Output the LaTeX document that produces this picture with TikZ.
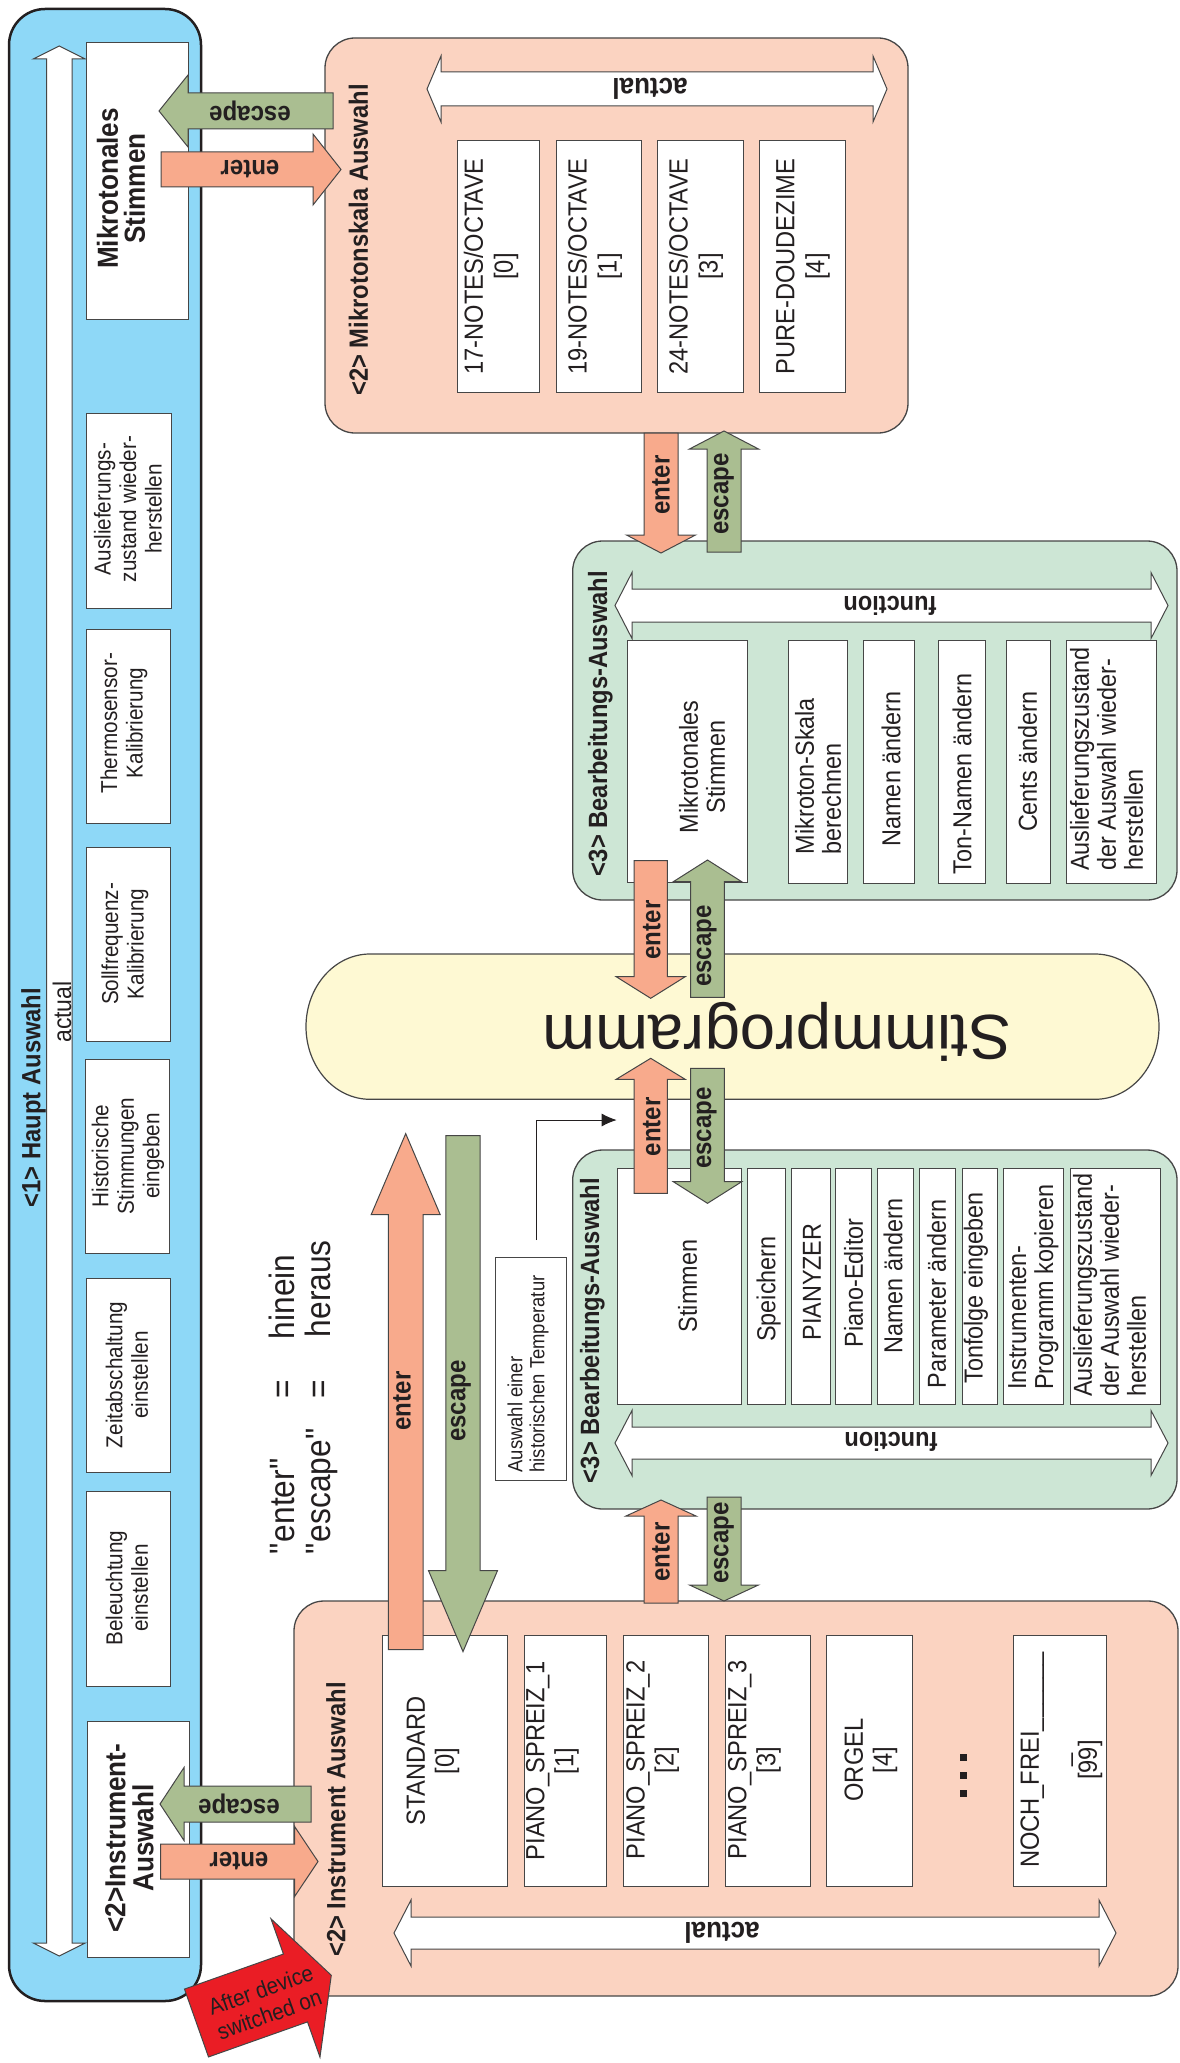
\documentclass[tikz,border=0pt]{standalone}
\usepackage{fontspec}
\setmainfont{Liberation Sans}[FakeStretch=0.9]
\newfontfamily\widefont{Liberation Sans}
\usetikzlibrary{arrows.meta}
\definecolor{bluefill}{RGB}{142,216,247}
\definecolor{pinkfill}{RGB}{251,211,193}
\definecolor{greenfill}{RGB}{205,230,213}
\definecolor{yellowfill}{RGB}{254,249,211}
\definecolor{enterfill}{RGB}{248,170,140}
\definecolor{escfill}{RGB}{170,190,145}
\definecolor{redfill}{RGB}{234,29,37}
\definecolor{ink}{RGB}{35,31,32}
\definecolor{edgegray}{RGB}{70,70,70}
\newcommand{\fs}[2]{\fontsize{#1}{#2}\selectfont}
% block arrow: fill, tail x, tail y, angle, length, shaft half width, head half width, head length
\newcommand{\blockarrow}[8]{\draw[draw=edgegray, line width=1pt, fill=#1, shift={(#2,#3)}, rotate=#4]
  (0,-#6) -- ({#5-#8},-#6) -- ({#5-#8},-#7) -- (#5,0) -- ({#5-#8},#7) -- ({#5-#8},#6) -- (0,#6) -- cycle;}
% double arrow: fill, tip x, tip y, angle, length, shaft half width, head half width, head length
\newcommand{\dblarrow}[8]{\draw[draw=edgegray, line width=1pt, fill=#1, shift={(#2,#3)}, rotate=#4]
  (0,0) -- (#8,#7) -- (#8,#6) -- ({#5-#8},#6) -- ({#5-#8},#7) -- (#5,0) -- ({#5-#8},-#7) -- ({#5-#8},-#6) -- (#8,-#6) -- (#8,-#7) -- cycle;}
\begin{document}
\begin{tikzpicture}[x=1pt,y=-1pt,
  item/.style={draw=edgegray, line width=1pt, fill=white},
  panel/.style={draw=edgegray, line width=1.3pt, rounded corners=30pt},
  txt/.style={text=ink, inner sep=0pt, align=center},
  lbl/.style={txt, font=\bfseries\fs{26.7}{28}},
  ttl/.style={txt, font=\bfseries\fs{26.4}{28}, rotate=90},
  boxt/.style={txt, font=\fs{26}{27}, rotate=90},
  bluet/.style={txt, font=\fs{23}{25.5}, rotate=90},
  mikt/.style={txt, font=\fs{26.3}{30}, rotate=90},
  inst/.style={txt, font=\fs{26.3}{29}, rotate=90},
  legend/.style={txt, font=\fs{35.2}{40}, rotate=90}]
\useasboundingbox (0,0) rectangle (1180,2063);

% ---------- blue main panel ----------
\draw[draw=ink, line width=2.5pt, fill=bluefill, rounded corners=36pt] (9,9) rectangle (201,2001);
\dblarrow{white}{59.3}{1956}{90}{1910}{12.8}{26}{13}
\draw[item] (86,43) rectangle (188,319);
\draw[item] (86,413) rectangle (171,608);
\draw[item] (86,629) rectangle (170,823);
\draw[item] (86,847) rectangle (170,1041);
\draw[item] (85,1059) rectangle (169,1253);
\draw[item] (86,1278) rectangle (170,1472);
\draw[item] (86,1491) rectangle (170,1686);
\draw[item] (87.5,1721) rectangle (189,1957);

% ---------- Mikrotonskala panel ----------
\draw[panel, fill=pinkfill] (325,38) rectangle (908,433);
\dblarrow{white}{427}{89}{0}{460}{17}{33}{14}
\draw[item] (457,141) rectangle (539,392);
\draw[item] (556,141) rectangle (641,392);
\draw[item] (657,141) rectangle (743,392);
\draw[item] (759,141) rectangle (845,392);

% ---------- upper Bearbeitungs panel ----------
\draw[panel, fill=greenfill] (572.7,541) rectangle (1177,900);
\dblarrow{white}{615}{605.5}{0}{553}{16.5}{33}{17}
\draw[item] (627,640) rectangle (747,882);
\draw[item] (788.5,640) rectangle (847,883);
\draw[item] (863,640) rectangle (914,883);
\draw[item] (938,640) rectangle (985,883);
\draw[item] (1006,640) rectangle (1050,883);
\draw[item] (1066,640) rectangle (1156,883);

% ---------- Stimmprogramm ----------
\draw[draw=edgegray, line width=1.2pt, fill=yellowfill] (370,954) -- (1095,954)
  arc[start angle=-90, end angle=90, x radius=64, y radius=72.65] -- (370,1099.3)
  arc[start angle=90, end angle=270, x radius=64, y radius=72.65] -- cycle;

% ---------- lower Bearbeitungs panel ----------
\draw[panel, fill=greenfill] (572.7,1150) rectangle (1177,1509);
\dblarrow{white}{615}{1443}{0}{553}{16}{32.5}{17}
\draw[item] (617,1168) rectangle (741,1404);
\draw[item] (747,1168) rectangle (785,1404);
\draw[item] (791,1168) rectangle (830,1404);
\draw[item] (835,1168) rectangle (871,1404);
\draw[item] (877.5,1168) rectangle (913,1404);
\draw[item] (919,1168) rectangle (955,1404);
\draw[item] (962,1168) rectangle (997,1404);
\draw[item] (1003.6,1168) rectangle (1063,1404);
\draw[item] (1070.5,1168) rectangle (1160,1404);

% ---------- Instrument panel ----------
\draw[panel, fill=pinkfill] (294,1601) rectangle (1178,1996);
\dblarrow{white}{394}{1933}{0}{722}{16}{33}{17}
\draw[item] (382,1635) rectangle (507.6,1886);
\draw[item] (524.5,1635) rectangle (606,1886);
\draw[item] (623,1635) rectangle (708.4,1886);
\draw[item] (725.4,1635) rectangle (810.5,1886);
\draw[item] (826.8,1635) rectangle (912.2,1886);
\draw[item] (1013.6,1635) rectangle (1106,1886);
\node[fill=ink, minimum size=7pt, inner sep=0pt] (dotA) at (963.3,1757.7) {};
\node[fill=ink, minimum size=7pt, inner sep=0pt] (dotB) at (963.3,1775.5) {};
\node[fill=ink, minimum size=7pt, inner sep=0pt] (dotC) at (963.3,1793.3) {};

% ---------- historical temperature note ----------
\draw[item] (495,1257) rectangle (566,1480);
\coordinate (tempTop) at (536.5,1240);
\coordinate (stimmIn) at (616.7,1120);
\draw[draw=ink, line width=1pt, -{Latex[length=15pt,width=13pt]}] (tempTop) |- (stimmIn);

% ---------- block arrows ----------
\blockarrow{escfill}{333}{111}{180}{174}{18}{36}{29}
\blockarrow{enterfill}{161}{169.5}{0}{180}{17.5}{35.5}{28}
\blockarrow{enterfill}{661}{433}{270}{120}{17}{34.5}{18}
\blockarrow{escfill}{724}{552}{90}{121}{17}{34.5}{18}
\blockarrow{enterfill}{650.7}{860.7}{270}{137.6}{16.7}{34.5}{21.6}
\blockarrow{escfill}{707.5}{997.3}{90}{137.3}{16.8}{34.2}{21.7}
\blockarrow{enterfill}{650.7}{1193.3}{90}{135}{16.7}{34.5}{21}
\blockarrow{escfill}{707.5}{1068.3}{270}{135}{16.8}{34.2}{21.6}
\blockarrow{enterfill}{661}{1603}{90}{103}{17}{35}{16}
\blockarrow{escfill}{724}{1497}{270}{104}{17}{34.4}{16}
\blockarrow{enterfill}{405.7}{1649.6}{90}{516}{17.3}{34.5}{81}
\blockarrow{escfill}{463}{1135.6}{270}{516}{17.2}{34.5}{81}
\blockarrow{escfill}{311}{1804}{180}{151}{18}{36.5}{24}
\blockarrow{enterfill}{160.7}{1861.5}{0}{157.3}{17.5}{35}{23.4}
\blockarrow{redfill}{196.5}{2023}{19.5}{143}{36}{73.4}{38}

% ---------- texts: blue panel ----------
\node[ttl] (haupt) at (33.5,1097.5) {<1> Haupt Auswahl};
\node[txt, rotate=90, font=\fs{25.5}{28}] (hauptAct) at (62,1012) {actual};
\node[txt, rotate=90, font=\bfseries\fs{29}{27}] (bMikro) at (121,188.5) {Mikrotonales\\Stimmen};
\node[bluet] (bAus) at (128,509) {Auslieferungs-\\zustand wieder-\\herstellen};
\node[bluet] (bTherm) at (124,723) {Thermosensor-\\Kalibrierung};
\node[bluet] (bSoll) at (125,944) {Sollfrequenz-\\Kalibrierung};
\node[bluet] (bHist) at (128,1156) {Historische\\Stimmungen\\eingeben};
\node[bluet] (bZeit) at (127,1375) {Zeitabschaltung\\einstellen};
\node[bluet] (bBel) at (127,1588) {Beleuchtung\\einstellen};
\node[txt, rotate=90, font=\bfseries\fs{29}{28}] (bInst) at (129.5,1838) {<2>Instrument-\\Auswahl};

% ---------- texts: Mikrotonskala ----------
\node[ttl] (mTitle) at (358.5,240) {<2> Mikrotonskala Auswahl};
\node[txt, rotate=180, font=\bfseries\fs{28.9}{30}] (mAct) at (650,89) {actual};
\node[mikt] (m17) at (491,266.5) {17-NOTES/OCTAVE\\{[0]}};
\node[mikt] (m19) at (594.8,266.5) {19-NOTES/OCTAVE\\{[1]}};
\node[mikt] (m24) at (695.8,266.5) {24-NOTES/OCTAVE\\{[3]}};
\node[mikt] (mPure) at (802.8,266.5) {PURE-DOUDEZIME\\{[4]}};

% ---------- texts: upper Bearbeitung ----------
\node[ttl] (b1Title) at (600.3,723.5) {<3> Bearbeitungs-Auswahl};
\node[txt, rotate=180, font=\bfseries\fs{26.2}{28}] (b1Fn) at (890,605.5) {function};
\node[boxt] (b1a) at (702,767) {Mikrotonales\\Stimmen};
\node[boxt, align=left] (b1b) at (818,776) {Mikroton-Skala\\berechnen};
\node[boxt] (b1c) at (891,769) {Namen ändern};
\node[boxt] (b1d) at (962,774) {Ton-Namen ändern};
\node[boxt] (b1e) at (1027.6,761.7) {Cents ändern};
\node[boxt, align=left] (b1f) at (1106.6,759) {Auslieferungszustand\\der Auswahl wieder-\\herstellen};

% ---------- Stimmprogramm text ----------
\node[txt, rotate=180, anchor=base, font=\widefont\fs{63.4}{70}] (stimm) at (777,1015) {Stimmprogramm};

% ---------- texts: lower Bearbeitung ----------
\node[ttl] (b2Title) at (592.4,1330.5) {<3> Bearbeitungs-Auswahl};
\node[txt, rotate=180, font=\bfseries\fs{26.2}{28}] (b2Fn) at (891,1442) {function};
\node[boxt] (b2a) at (687.5,1286) {Stimmen};
\node[boxt] (b2b) at (768.6,1289) {Speichern};
\node[boxt] (b2c) at (812,1282) {PIANYZER};
\node[boxt] (b2d) at (853.6,1283) {Piano-Editor};
\node[boxt] (b2e) at (893,1276) {Namen ändern};
\node[boxt] (b2f) at (936.6,1294) {Parameter ändern};
\node[boxt] (b2g) at (976,1288) {Tonfolge eingeben};
\node[boxt, align=left] (b2h) at (1033.4,1287) {Instrumenten-\\Programm kopieren};
\node[boxt, align=left] (b2i) at (1109.6,1285) {Auslieferungszustand\\der Auswahl wieder-\\herstellen};

% ---------- texts: Instrument ----------
\node[ttl] (iTitle) at (336,1819.5) {<2> Instrument Auswahl};
\node[txt, rotate=180, font=\bfseries\fs{28.9}{30}] (iAct) at (722,1933) {actual};
\node[inst] (i0) at (433,1761) {STANDARD\\{[0]}};
\node[inst] (i1) at (552.5,1761) {PIANO\_SPREIZ\_1\\{[1]}};
\node[inst] (i2) at (652.7,1760) {PIANO\_SPREIZ\_2\\{[2]}};
\node[inst] (i3) at (754.5,1760) {PIANO\_SPREIZ\_3\\{[3]}};
\node[inst] (i4) at (871,1760) {ORGEL\\{[4]}};
\node[inst] (i99) at (1061.4,1760) {NOCH\_FREI\_\_\_\_\_\_\\\_\\{[99]}};

% ---------- note text ----------
\node[txt, rotate=90, align=left, font=\fs{20.5}{22}] (tempT) at (528,1374) {Auswahl einer\\historischen Temperatur};

% ---------- legend ----------
\node[legend, anchor=base west] (lgA) at (294.7,1554.7) {\textquotedbl enter\textquotedbl};
\node[legend, anchor=base] (lgB) at (294.7,1389) {=};
\node[legend, anchor=base west] (lgC) at (294.7,1339.2) {hinein};
\node[legend, anchor=base west] (lgD) at (330,1554.7) {\textquotedbl escape\textquotedbl};
\node[legend, anchor=base] (lgE) at (330,1389) {=};
\node[legend, anchor=base west] (lgF) at (330,1337.2) {heraus};

% ---------- arrow labels ----------
\node[lbl, rotate=180] (escT) at (250,111) {escape};
\node[lbl, rotate=180] (entT) at (250,169.5) {enter};
\node[lbl, rotate=90] (entM) at (661,485) {enter};
\node[lbl, rotate=90] (escM) at (724,494) {escape};
\node[lbl, rotate=90] (entS1) at (651.7,930) {enter};
\node[lbl, rotate=90] (escS1) at (706.7,946) {escape};
\node[lbl, rotate=90] (entS2) at (651.7,1126.7) {enter};
\node[lbl, rotate=90] (escS2) at (706.7,1128) {escape};
\node[lbl, rotate=90] (entI) at (661,1552) {enter};
\node[lbl, rotate=90] (escI) at (724,1543) {escape};
\node[lbl, rotate=90] (entL) at (402,1401) {enter};
\node[lbl, rotate=90] (escL) at (461,1401) {escape};
\node[lbl, rotate=180] (escB) at (239,1804) {escape};
\node[lbl, rotate=180] (entB) at (239,1861.5) {enter};
\node[txt, rotate=19.5, font=\fs{23}{26}] (after) at (265,2002) {After device\\switched on};
\end{tikzpicture}
\end{document}
